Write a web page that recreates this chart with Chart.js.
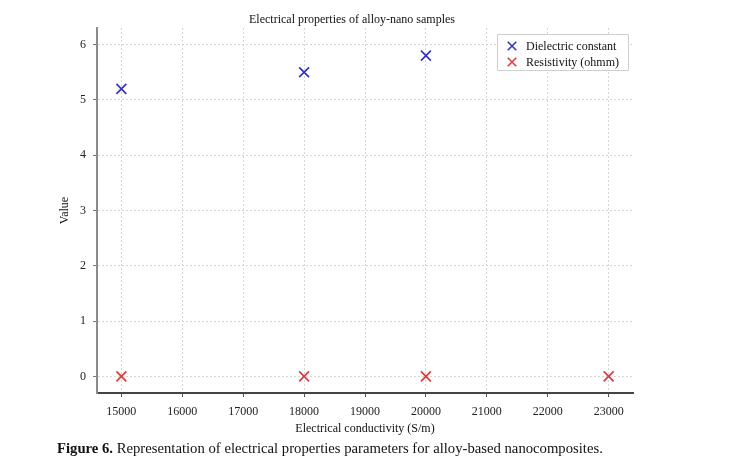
<!DOCTYPE html>
<html>
<head>
<meta charset="utf-8">
<script src="https://cdn.jsdelivr.net/npm/chart.js@4.4.0/dist/chart.umd.min.js"></script>
<style>
  body { margin: 0; background: #fff; }
  #wrap { position: relative; width: 729px; height: 469px; }
  #caption { position: absolute; left: 57px; top: 440px; font: 14.7px "Liberation Serif", "DejaVu Serif", serif; color: #111; white-space: nowrap; }
</style>
</head>
<body>
<div id="wrap">
  <canvas id="chart" width="729" height="469"></canvas>
  <div id="caption"><b>Figure 6.</b> Representation of electrical properties parameters for alloy-based nanocomposites.</div>
</div>
<script>
var seriesNames = ["Dielectric constant", "Resistivity (ohmm)"];
var dielectricX = [15000, 18000, 20000];
var dielectricY = [5.2, 5.5, 5.8];
var resistX = [15000, 18000, 20000, 23000];
var resistY = [0, 0, 0, 0];
var xTicks = [15000, 16000, 17000, 18000, 19000, 20000, 21000, 22000, 23000];
var yTicks = [0, 1, 2, 3, 4, 5, 6];
var chartTitle = "Electrical properties of alloy-nano samples";
var xTitle = "Electrical conductivity (S/m)";
var yTitle = "Value";

var serif = "'Liberation Serif', 'DejaVu Serif', serif";
var blue = "#3333c4";
var red = "#e03a3a";

function pts(xs, ys) {
  return xs.map(function(x, i) { return {x: x, y: ys[i]}; });
}

// title + legend drawn in a little plugin (legend sits inside the plot)
var extras = {
  id: "extras",
  afterDraw: function(chart) {
    var ctx = chart.ctx;
    ctx.save();
    ctx.font = "12px " + serif;
    ctx.fillStyle = "#111";
    ctx.textAlign = "center";
    ctx.textBaseline = "middle";
    ctx.fillText(chartTitle, 352, 20);

    ctx.fillStyle = "#fff";
    ctx.strokeStyle = "#cfcfcf";
    ctx.lineWidth = 1;
    ctx.beginPath();
    ctx.rect(497.5, 34.5, 131, 36);
    ctx.fill();
    ctx.stroke();

    ctx.textAlign = "left";
    chart.data.datasets.forEach(function(ds, i) {
      var y = 46 + i * 16;
      ctx.strokeStyle = ds.borderColor;
      ctx.lineWidth = 1.6;
      var r = 6 * Math.SQRT1_2;
      ctx.beginPath();
      ctx.moveTo(512 - r, y - r); ctx.lineTo(512 + r, y + r);
      ctx.moveTo(512 - r, y + r); ctx.lineTo(512 + r, y - r);
      ctx.stroke();
      ctx.fillStyle = "#111";
      ctx.fillText(ds.label, 526, y + 1);
    });
    ctx.restore();
  }
};

new Chart(document.getElementById("chart"), {
  type: "scatter",
  data: {
    datasets: [{
      label: seriesNames[0],
      data: pts(dielectricX, dielectricY),
      pointStyle: "crossRot",
      pointRadius: 7,
      pointBorderWidth: 1.7,
      borderColor: blue,
      backgroundColor: blue
    }, {
      label: seriesNames[1],
      data: pts(resistX, resistY),
      pointStyle: "crossRot",
      pointRadius: 7,
      pointBorderWidth: 1.7,
      borderColor: red,
      backgroundColor: red
    }]
  },
  options: {
    responsive: false,
    animation: false,
    layout: { padding: { left: 0, right: 96, top: 28, bottom: 30 } },
    plugins: {
      legend: { display: false },
      title: { display: false },
      tooltip: { enabled: false }
    },
    scales: {
      x: {
        type: "linear",
        min: 14600,
        max: 23400,
        afterBuildTicks: function(s) { s.ticks = xTicks.map(function(v) { return {value: v}; }); },
        afterFit: function(s) { s.height = 46; },
        ticks: {
          font: { family: serif, size: 12 },
          color: "#222",
          padding: 8,
          maxRotation: 0,
          callback: function(v) { return String(v); }
        },
        grid: { color: "#d6d6d6", tickColor: "#555", tickLength: 4 },
        border: { color: "#444", width: 2, dash: [2, 2] },
        title: {
          display: true,
          text: xTitle,
          font: { family: serif, size: 12 },
          color: "#111",
          padding: { top: 0, bottom: 3 }
        }
      },
      y: {
        min: -0.3,
        max: 6.3,
        afterBuildTicks: function(s) { s.ticks = yTicks.map(function(v) { return {value: v}; }); },
        afterFit: function(s) { s.width = 97; },
        ticks: {
          font: { family: serif, size: 12 },
          color: "#222",
          padding: 7
        },
        grid: { color: "#d6d6d6", tickColor: "#777", tickLength: 4 },
        border: { color: "#8a8a8a", width: 2, dash: [2, 2] },
        title: {
          display: true,
          text: yTitle,
          font: { family: serif, size: 12 },
          color: "#111",
          padding: { top: 58, bottom: 0 }
        }
      }
    }
  },
  plugins: [extras]
});
</script>
</body>
</html>
